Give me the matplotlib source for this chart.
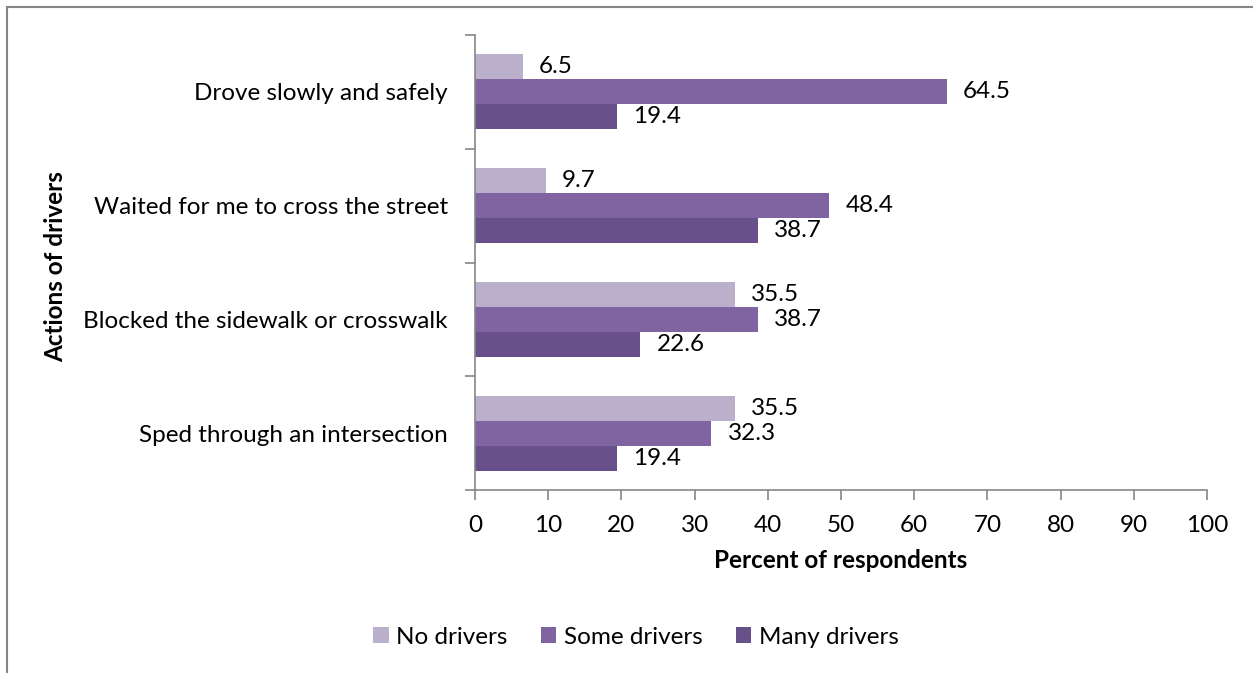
import numpy as np
import matplotlib.pyplot as plt
from matplotlib.patches import Rectangle

plt.rcParams['font.family'] = ['Lato', 'DejaVu Sans']

categories = ['Drove slowly and safely', 'Waited for me to cross the street',
              'Blocked the sidewalk or crosswalk', 'Sped through an intersection']
series = ['No drivers', 'Some drivers', 'Many drivers']
no_drivers = [6.5, 9.7, 35.5, 35.5]
some_drivers = [64.5, 48.4, 38.7, 32.3]
many_drivers = [19.4, 38.7, 22.6, 19.4]
colors = ['#BAB0CC', '#8064A2', '#68508A']

fs = 17.5
fig = plt.figure(figsize=(12.53, 6.73), dpi=100)
ax = fig.add_axes([475/1253, 1-490/673, 732/1253, 455/673])

# outer chart frame (right and bottom edges fall outside the picture)
fig.patches.append(Rectangle((7/1253, -0.05), 1.1, 1.05 - 7/673,
                             transform=fig.transFigure, fill=False,
                             edgecolor='#868686', linewidth=1.5))

ypos = np.arange(len(categories))[::-1]
h = 0.22
grey = '#868686'
for vals, off, c, lab in zip([no_drivers, some_drivers, many_drivers],
                             [h, 0, -h], colors, series):
    bars = ax.barh(ypos + off, vals, height=h, color=c, label=lab)
    for b, v in zip(bars, vals):
        ax.text(v + 2.2, b.get_y() + h/2, f'{v:.1f}', va='center', ha='left',
                fontsize=fs)

ax.set_xlim(0, 100)
ax.set_ylim(-0.5, 3.5)
ax.set_xticks(np.arange(0, 101, 10))
ax.set_yticks(ypos)
ax.set_yticklabels(categories)
ax.set_yticks(np.arange(-0.5, 3.6, 1), minor=True)
ax.tick_params(axis='y', which='major', length=0, pad=19.5, labelsize=fs)
ax.tick_params(axis='y', which='minor', length=7, color=grey, width=1.2)
ax.tick_params(axis='x', length=7, color=grey, width=1.2, pad=11, labelsize=fs)

for s in ['top', 'right']:
    ax.spines[s].set_visible(False)
for s in ['left', 'bottom']:
    ax.spines[s].set_color(grey)
    ax.spines[s].set_linewidth(1.2)

ax.set_xlabel('Percent of respondents', fontsize=fs, fontweight='bold', labelpad=9)
fig.text(56/1253, 1-267/673, 'Actions of drivers', rotation=90, fontsize=fs,
         fontweight='bold', ha='center', va='center')

fig.legend(loc='center', bbox_to_anchor=(636/1253, 1-637/673), ncol=3,
           frameon=False, fontsize=fs, handlelength=0.62, handleheight=0.62,
           handletextpad=0.3, columnspacing=1.4)

fig.savefig('out.png', dpi=100)
